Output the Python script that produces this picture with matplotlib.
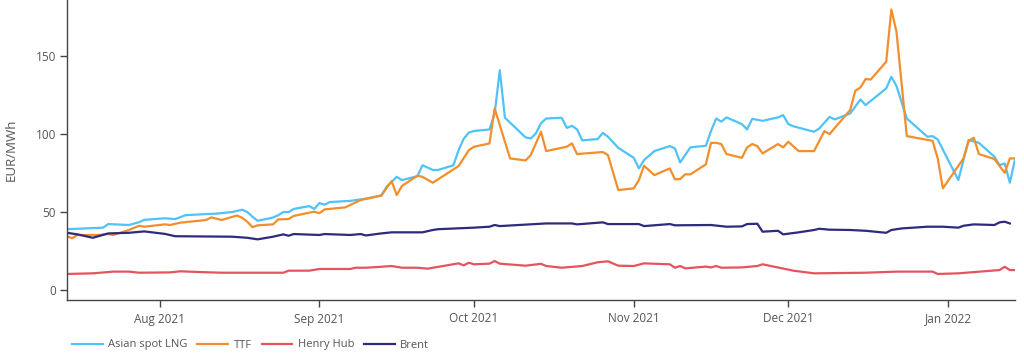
import matplotlib
matplotlib.use('Agg')
import matplotlib.pyplot as plt
import matplotlib.dates as mdates
import pandas as pd

# Asian spot LNG
lng_dates = ['2021-07-14', '2021-07-21', '2021-07-22', '2021-07-26', '2021-07-28', '2021-07-29',
             '2021-08-02', '2021-08-04', '2021-08-06', '2021-08-10', '2021-08-12', '2021-08-15',
             '2021-08-17', '2021-08-18', '2021-08-19', '2021-08-20', '2021-08-23', '2021-08-24',
             '2021-08-25', '2021-08-26', '2021-08-27', '2021-08-30', '2021-08-31', '2021-09-01',
             '2021-09-02', '2021-09-03', '2021-09-07', '2021-09-10', '2021-09-13', '2021-09-14',
             '2021-09-16', '2021-09-17', '2021-09-20', '2021-09-21', '2021-09-23', '2021-09-24',
             '2021-09-27', '2021-09-28', '2021-09-29', '2021-09-30', '2021-10-01', '2021-10-04',
             '2021-10-05', '2021-10-06', '2021-10-07', '2021-10-11', '2021-10-12', '2021-10-13',
             '2021-10-14', '2021-10-15', '2021-10-18', '2021-10-19', '2021-10-20', '2021-10-21',
             '2021-10-22', '2021-10-25', '2021-10-26', '2021-10-27', '2021-10-29', '2021-11-01',
             '2021-11-02', '2021-11-03', '2021-11-05', '2021-11-08', '2021-11-09', '2021-11-10',
             '2021-11-12', '2021-11-15', '2021-11-16', '2021-11-17', '2021-11-18', '2021-11-19',
             '2021-11-22', '2021-11-23', '2021-11-24', '2021-11-26', '2021-11-29', '2021-11-30',
             '2021-12-01', '2021-12-02', '2021-12-06', '2021-12-07', '2021-12-09', '2021-12-10',
             '2021-12-13', '2021-12-15', '2021-12-16', '2021-12-20', '2021-12-21', '2021-12-22',
             '2021-12-24', '2021-12-28', '2021-12-29', '2021-12-30', '2022-01-03', '2022-01-05',
             '2022-01-07', '2022-01-10', '2022-01-11', '2022-01-12', '2022-01-13', '2022-01-14']
lng_values = [39, 40, 42.3, 41.7, 43.5, 45,
              46, 45.5, 48, 48.7, 49, 50,
              51.5, 50, 47, 44.4, 46.5, 48,
              50, 50, 52, 53.8, 52, 55.8,
              54.7, 56.4, 57.2, 58.6, 60.6, 66,
              72.6, 70.5, 73, 80, 77, 77,
              80, 89.7, 97, 101, 102, 103,
              113, 141, 110.5, 97.9, 97.2, 100.4,
              107, 110, 110.5, 104, 105.3, 103,
              96, 96.8, 100.8, 98.3, 91.2, 84.8,
              78, 83.3, 89.1, 92.3, 90.8, 81.8,
              91.5, 92.5, 102, 110, 108, 110.7,
              106.4, 103, 109.8, 108.5, 110.7, 112.2,
              106.4, 105, 101.5, 103.6, 111, 109.4,
              113.2, 122.2, 118.6, 129.3, 136.8, 130.8,
              110, 98.3, 98.7, 96.6, 70.5, 96.2,
              94.4, 85.5, 80.1, 81.2, 68.8, 83.8]

# TTF
ttf_dates = ['2021-07-14', '2021-07-15', '2021-07-16', '2021-07-20', '2021-07-22', '2021-07-23',
             '2021-07-26', '2021-07-28', '2021-07-29', '2021-08-02', '2021-08-03', '2021-08-05',
             '2021-08-10', '2021-08-11', '2021-08-13', '2021-08-16', '2021-08-17', '2021-08-18',
             '2021-08-19', '2021-08-20', '2021-08-23', '2021-08-24', '2021-08-26', '2021-08-27',
             '2021-08-30', '2021-08-31', '2021-09-01', '2021-09-02', '2021-09-06', '2021-09-09',
             '2021-09-13', '2021-09-15', '2021-09-16', '2021-09-17', '2021-09-20', '2021-09-21',
             '2021-09-23', '2021-09-28', '2021-09-30', '2021-10-01', '2021-10-04', '2021-10-05',
             '2021-10-08', '2021-10-11', '2021-10-12', '2021-10-14', '2021-10-15', '2021-10-19',
             '2021-10-20', '2021-10-21', '2021-10-26', '2021-10-27', '2021-10-29', '2021-11-01',
             '2021-11-02', '2021-11-03', '2021-11-05', '2021-11-08', '2021-11-09', '2021-11-10',
             '2021-11-11', '2021-11-12', '2021-11-15', '2021-11-16', '2021-11-17', '2021-11-18',
             '2021-11-19', '2021-11-22', '2021-11-23', '2021-11-24', '2021-11-25', '2021-11-26',
             '2021-11-29', '2021-11-30', '2021-12-01', '2021-12-03', '2021-12-06', '2021-12-08',
             '2021-12-09', '2021-12-13', '2021-12-14', '2021-12-15', '2021-12-16', '2021-12-17',
             '2021-12-20', '2021-12-21', '2021-12-22', '2021-12-24', '2021-12-29', '2021-12-30',
             '2021-12-31', '2022-01-04', '2022-01-05', '2022-01-06', '2022-01-07', '2022-01-10',
             '2022-01-12', '2022-01-13', '2022-01-14']
ttf_values = [34.5, 33.2, 35.3, 35.3, 35.9, 35.3,
              38.5, 41.2, 40.6, 42.1, 41.7, 43.2,
              44.9, 46.6, 44.9, 47.8, 46.3, 43.8,
              40.3, 41.5, 42.1, 45.3, 45.5, 47.5,
              49.6, 50.2, 49.3, 51.7, 53, 57.7,
              60.6, 69.9, 60.9, 66.7, 73.3, 72.6,
              68.8, 79.5, 89.7, 91.9, 94, 116.5,
              84.4, 83.1, 86.5, 101.5, 89.1, 91.9,
              94, 87.2, 88.5, 86.5, 64.1, 65.2,
              70.5, 79.7, 73.7, 78, 71, 71.2,
              74.2, 74.2, 80.6, 94.4, 94.4, 93.6,
              87.2, 84.8, 91.5, 93.6, 92.3, 87.6,
              93.6, 91.5, 95.1, 89.1, 89.1, 101.9,
              100, 115.4, 127.8, 129.9, 135.3, 135,
              146.4, 179.9, 165.6, 98.7, 95.7, 84.4,
              65.2, 84.4, 95.7, 97.6, 87.2, 84,
              75.2, 84.4, 84.4]

# Henry Hub
hh_dates = ['2021-07-14', '2021-07-19', '2021-07-23', '2021-07-26', '2021-07-28', '2021-08-03',
            '2021-08-05', '2021-08-09', '2021-08-13', '2021-08-25', '2021-08-26', '2021-08-30',
            '2021-09-01', '2021-09-07', '2021-09-08', '2021-09-10', '2021-09-13', '2021-09-15',
            '2021-09-17', '2021-09-20', '2021-09-22', '2021-09-28', '2021-09-29', '2021-09-30',
            '2021-10-01', '2021-10-04', '2021-10-05', '2021-10-06', '2021-10-11', '2021-10-14',
            '2021-10-15', '2021-10-18', '2021-10-22', '2021-10-25', '2021-10-27', '2021-10-29',
            '2021-11-01', '2021-11-03', '2021-11-08', '2021-11-09', '2021-11-10', '2021-11-11',
            '2021-11-15', '2021-11-16', '2021-11-17', '2021-11-18', '2021-11-22', '2021-11-25',
            '2021-11-26', '2021-12-02', '2021-12-06', '2021-12-16', '2021-12-22', '2021-12-29',
            '2021-12-30', '2022-01-03', '2022-01-11', '2022-01-12', '2022-01-13', '2022-01-14']
hh_values = [10.3, 10.7, 11.8, 11.8, 11.1, 11.3,
             12, 11.5, 11.1, 11.1, 12.4, 12.4,
             13.5, 13.5, 14.3, 14.3, 14.9, 15.4,
             14.3, 14.3, 13.7, 17.1, 15.8, 17.5,
             16.5, 16.9, 18.6, 16.9, 15.6, 16.8,
             15.4, 14.3, 15.4, 17.8, 18.4, 15.6,
             15.4, 17.1, 16.5, 14.3, 15.4, 13.9,
             15.0, 14.5, 15.4, 14.3, 14.5, 15.4,
             16.5, 12.4, 10.7, 11.1, 11.8, 11.8,
             10.3, 10.7, 12.8, 14.9, 12.8, 12.8]

# Brent
brent_dates = ['2021-07-14', '2021-07-16', '2021-07-19', '2021-07-22', '2021-07-26', '2021-07-29',
               '2021-08-02', '2021-08-04', '2021-08-15', '2021-08-18', '2021-08-20', '2021-08-23',
               '2021-08-25', '2021-08-26', '2021-08-27', '2021-09-01', '2021-09-02', '2021-09-07',
               '2021-09-09', '2021-09-10', '2021-09-13', '2021-09-15', '2021-09-21', '2021-09-23',
               '2021-09-24', '2021-10-01', '2021-10-04', '2021-10-05', '2021-10-06', '2021-10-15',
               '2021-10-20', '2021-10-21', '2021-10-26', '2021-10-27', '2021-11-02', '2021-11-03',
               '2021-11-08', '2021-11-09', '2021-11-16', '2021-11-19', '2021-11-22', '2021-11-23',
               '2021-11-25', '2021-11-26', '2021-11-29', '2021-11-30', '2021-12-03', '2021-12-06',
               '2021-12-07', '2021-12-09', '2021-12-13', '2021-12-16', '2021-12-20', '2021-12-21',
               '2021-12-23', '2021-12-28', '2021-12-31', '2022-01-03', '2022-01-04', '2022-01-06',
               '2022-01-10', '2022-01-11', '2022-01-12', '2022-01-13']
brent_values = [36.7, 35.7, 33.5, 36.3, 36.7, 37.6,
                36.0, 34.5, 34.2, 33.5, 32.5, 34.2,
                35.7, 34.8, 35.9, 35.3, 35.9, 35.3,
                35.9, 35, 36.3, 37, 37, 38.5,
                39, 40, 40.6, 41.7, 41, 42.7,
                42.7, 42.1, 43.4, 42.3, 42.3, 41,
                42.3, 41.5, 41.7, 40.6, 40.8, 42.3,
                42.5, 37.4, 38, 35.7, 37, 38.5,
                39.3, 38.7, 38.5, 38, 36.7, 38.5,
                39.5, 40.6, 40.6, 40, 41.2, 42.1,
                41.7, 43.4, 43.8, 42.7]

plt.rcParams['font.family'] = ['Open Sans', 'DejaVu Sans']

text_col = '#555555'
axis_col = '#444444'

fig = plt.figure(figsize=(10.24, 3.56), dpi=100)
ax = fig.add_axes([67 / 1024, 1 - 300 / 356, 948 / 1024, 300 / 356])

# draw the four series
series = [
    (lng_dates, lng_values, 'Asian spot LNG', '#4FC3F7'),
    (ttf_dates, ttf_values, 'TTF', '#F28E2B'),
    (hh_dates, hh_values, 'Henry Hub', '#E5545E'),
    (brent_dates, brent_values, 'Brent', '#2E2A7C'),
]
for dates, values, name, col in series:
    ax.plot(pd.to_datetime(dates), values, color=col, lw=1.6, label=name)

# axis setup
ax.set_ylim(-6.4, 186)
ax.margins(x=0)
ax.set_yticks([0, 50, 100, 150])
ax.xaxis.set_major_locator(mdates.MonthLocator())
ax.xaxis.set_major_formatter(mdates.DateFormatter('%b %Y'))
ax.set_ylabel('EUR/MWh', color=text_col, fontsize=9.5, labelpad=13)

for side in ['top', 'right']:
    ax.spines[side].set_visible(False)
for side in ['left', 'bottom']:
    ax.spines[side].set_color(axis_col)
    ax.spines[side].set_linewidth(1)
ax.tick_params(colors=axis_col, labelcolor=text_col, labelsize=8.5, length=5, width=1)
ax.tick_params(axis='x', pad=4)
ax.tick_params(axis='y', pad=3)

# legend underneath
fig.legend(loc='center left', bbox_to_anchor=(72 / 1024, 1 - 345 / 356), ncol=4,
           frameon=False, fontsize=8, handlelength=2.75, handletextpad=0.5,
           columnspacing=0.9, borderpad=0, borderaxespad=0, labelcolor=text_col)

plt.savefig('out.png', dpi=100)
